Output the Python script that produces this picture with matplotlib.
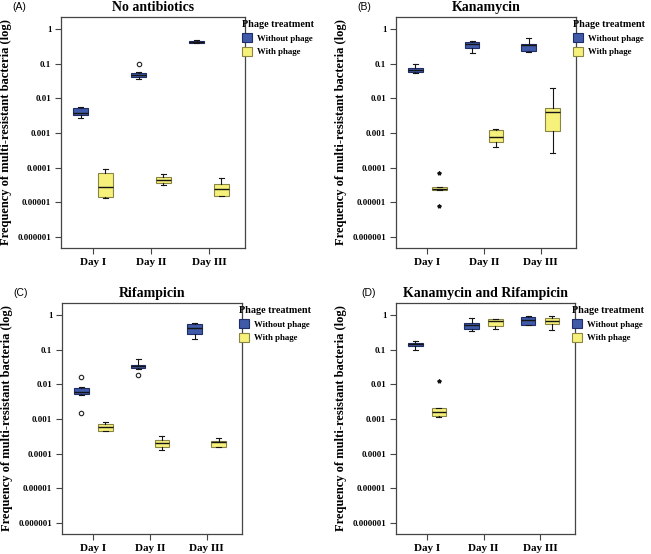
import numpy as np
import matplotlib.pyplot as plt
from matplotlib.patches import Patch
from matplotlib.ticker import NullLocator

# --- data ---
days = ["Day I", "Day II", "Day III"]
panel_titles = ["No antibiotics", "Kanamycin", "Rifampicin", "Kanamycin and Rifampicin"]
panel_tags = ["(A)", "(B)", "(C)", "(D)"]
group_labels = ["Without phage", "With phage"]
y_ticks = [1, 0.1, 0.01, 0.001, 0.0001, 0.00001, 0.000001]
y_tick_labels = ["1", "0.1", "0.01", "0.001", "0.0001", "0.00001", "0.000001"]

# (lower whisker, Q1, median, Q3, upper whisker) per day
noab_without = [(0.00266, 0.0033, 0.00385, 0.00516, 0.0055),
                (0.036, 0.042, 0.048, 0.055, 0.057),
                (0.38, 0.386, 0.42, 0.46, 0.47)]
noab_with = [(1.33e-5, 1.46e-5, 2.8e-5, 7.2e-5, 9e-5),
             (3.1e-5, 3.7e-5, 4.4e-5, 5.5e-5, 6.4e-5),
             (1.5e-5, 1.56e-5, 2.38e-5, 3.4e-5, 5.1e-5)]
noab_without_out = [[], [0.098], []]
noab_with_out = [[], [], []]

kan_without = [(0.053, 0.056, 0.066, 0.0766, 0.096),
               (0.207, 0.29, 0.36, 0.43, 0.45),
               (0.212, 0.232, 0.346, 0.377, 0.55)]
kan_with = [(2.2e-5, 2.27e-5, 2.43e-5, 2.7e-5, 2.8e-5),
            (0.000403, 0.000562, 0.000785, 0.00119, 0.00128),
            (0.00027, 0.00112, 0.00395, 0.0054, 0.02)]
kan_without_out = [[], [], []]
kan_with_out = [[6.9e-5, 8.0e-6], [], []]

rif_without = [(0.005, 0.0051, 0.006, 0.008, 0.0082),
               (0.028, 0.0285, 0.0326, 0.037, 0.052),
               (0.206, 0.275, 0.42, 0.537, 0.575)]
rif_with = [(0.000434, 0.000443, 0.00058, 0.00072, 0.00081),
            (0.000128, 0.00016, 0.0002, 0.000249, 0.000317),
            (0.00016, 0.00016, 0.000213, 0.000233, 0.000285)]
rif_without_out = [[0.0163, 0.00147], [0.018], []]
rif_with_out = [[], [], []]

kanrif_without = [(0.095, 0.123, 0.14, 0.155, 0.18),
                  (0.35, 0.40, 0.5, 0.58, 0.82),
                  (0.51, 0.52, 0.69, 0.86, 0.9)]
kanrif_with = [(0.00115, 0.00125, 0.00156, 0.002, 0.0021),
               (0.39, 0.47, 0.68, 0.74, 0.77),
               (0.36, 0.56, 0.68, 0.80, 0.94)]
kanrif_without_out = [[], [], []]
kanrif_with_out = [[0.0124], [], []]

# --- style ---
plt.rcParams['font.family'] = ['Liberation Serif', 'DejaVu Serif']
plt.rcParams['font.weight'] = 'bold'

blue_face, blue_edge = '#3f5aa8', '#1f2d66'
yel_face, yel_edge = '#f6f17a', '#8a8545'
frame_col = '#444444'


def make_stats(vals, outs):
    return [dict(whislo=v[0], q1=v[1], med=v[2], q3=v[3], whishi=v[4], fliers=o)
            for v, o in zip(vals, outs)]


def panel(ax, without, with_, without_out, with_out, title, marker):
    x = np.arange(len(days))
    for vals, outs, off, face, edge in [(without, without_out, -0.21, blue_face, blue_edge),
                                        (with_, with_out, 0.21, yel_face, yel_edge)]:
        if marker == 'o':
            fp = dict(marker='o', markersize=3.2, markerfacecolor='white',
                      markeredgecolor='#222222', markeredgewidth=0.8)
        else:
            fp = dict(marker='*', markersize=2.8, markerfacecolor='#111111',
                      markeredgecolor='#111111')
        ax.bxp(make_stats(vals, outs), positions=x + off, widths=0.26,
               patch_artist=True, capwidths=0.09, manage_ticks=False,
               boxprops=dict(facecolor=face, edgecolor=edge, linewidth=0.8),
               medianprops=dict(color='#151515', linewidth=1.0),
               whiskerprops=dict(color='#151515', linewidth=0.8),
               capprops=dict(color='#151515', linewidth=0.8),
               flierprops=fp)

    ax.set_yscale('log')
    ax.set_ylim(4.8e-7, 2.2)
    ax.set_yticks(y_ticks)
    ax.set_yticklabels(y_tick_labels)
    ax.yaxis.set_minor_locator(NullLocator())
    ax.set_xticks(x)
    ax.set_xticklabels(days)
    ax.set_xlim(-0.55, 2.62)
    ax.tick_params(axis='y', labelsize=6.3, length=4.5, width=0.8, color=frame_col, pad=2.5)
    ax.tick_params(axis='x', labelsize=8, length=4, width=0.8, color=frame_col, pad=3)
    for s in ax.spines.values():
        s.set_color(frame_col)
        s.set_linewidth(0.9)
    ax.set_ylabel("Frequency of multi-resistant bacteria (log)", fontsize=9,
                  fontweight='bold', labelpad=4)
    ax.set_title(title, fontsize=10, fontweight='bold', pad=4)

    handles = [Patch(facecolor=blue_face, edgecolor=blue_edge, linewidth=0.8),
               Patch(facecolor=yel_face, edgecolor=yel_edge, linewidth=0.8)]
    ax.legend(handles, group_labels, title="Phage treatment", loc='upper left',
              bbox_to_anchor=(0.985, 0.985), frameon=False, fontsize=6.3,
              title_fontproperties=dict(weight='bold', size=7.3),
              handlelength=1.15, handleheight=1.2, handletextpad=0.5,
              borderaxespad=0, borderpad=0, labelspacing=0.45, alignment='left')


W, H = 651, 554
fig = plt.figure(figsize=(6.51, 5.54), dpi=100)

# axes boxes in pixels: left, top, right, bottom
boxes = [(61, 17, 245, 248), (396, 17, 576, 248), (62, 303, 242, 534), (396, 303, 575, 534)]
tag_pos = [(12, 7), (357, 7), (13, 293), (361, 293)]
data = [(noab_without, noab_with, noab_without_out, noab_with_out, 'o'),
        (kan_without, kan_with, kan_without_out, kan_with_out, '*'),
        (rif_without, rif_with, rif_without_out, rif_with_out, 'o'),
        (kanrif_without, kanrif_with, kanrif_without_out, kanrif_with_out, '*')]

for i, (l, t, r, b) in enumerate(boxes):
    ax = fig.add_axes([l / W, 1 - b / H, (r - l) / W, (b - t) / H])
    wo, wi, wo_out, wi_out, mk = data[i]
    panel(ax, wo, wi, wo_out, wi_out, panel_titles[i], mk)
    fig.text(tag_pos[i][0] / W, 1 - tag_pos[i][1] / H, panel_tags[i],
             family='Liberation Sans', fontweight='normal', fontsize=7.5, va='center')

fig.savefig("out.png", dpi=100)
